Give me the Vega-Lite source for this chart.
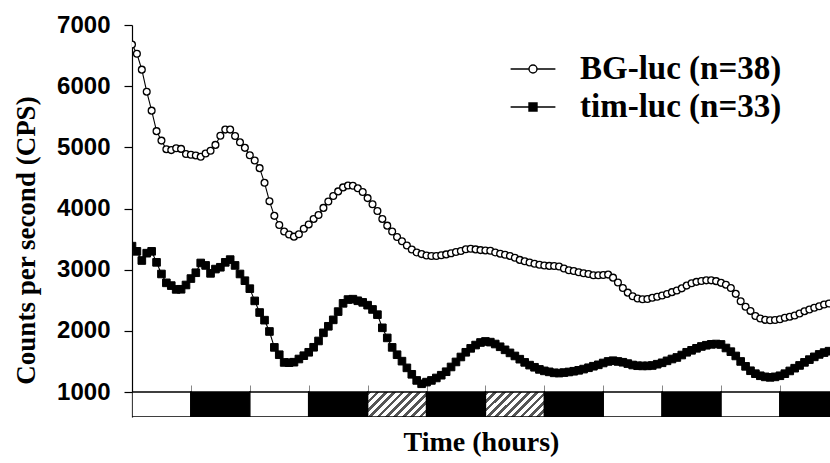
{
  "$schema": "https://vega.github.io/schema/vega-lite/v6.json",
  "autosize": {"type": "none"},
  "width": 698,
  "height": 392,
  "padding": {"left": 132, "top": 25, "right": 0, "bottom": 46},
  "background": "white",
  "config": {
    "view": {"stroke": null},
    "axisX": {"grid": false, "domain": false, "labels": false, "tickSize": -7, "tickColor": "#888", "tickWidth": 1, "offset": -25, "titleFont": "Liberation Serif", "titleFontWeight": "bold", "titleFontSize": 28, "titleColor": "black", "titleY": 58, "titleBaseline": "alphabetic"},
    "axisY": {"grid": false, "domainColor": "black", "domainWidth": 1.2, "tickColor": "black", "tickWidth": 1.2, "tickSize": 8, "labelFont": "Liberation Sans", "labelFontWeight": "bold", "labelFontSize": 24, "labelColor": "black", "labelPadding": 14, "format": "d", "titleFont": "Liberation Serif", "titleFontWeight": "bold", "titleFontSize": 27, "titleColor": "black", "titleX": -106, "titleY": 215, "titleAngle": -90, "titleAlign": "center", "titleBaseline": "middle"},
    "legend": {"title": null, "orient": "none", "legendX": 380, "legendY": 23, "padding": 0, "rowPadding": 0, "symbolSize": 1600, "labelOffset": 26, "labelLimit": 400, "labelFont": "Liberation Serif", "labelFontWeight": "bold", "labelFontSize": 33, "labelColor": "black", "symbolStrokeColor": "black", "symbolStrokeWidth": 1.4, "symbolOpacity": 1}
  },
  "datasets": {
    "boxes": [
      {"start": 0, "end": 12, "kind": "L"},
      {"start": 12, "end": 24, "kind": "D"},
      {"start": 24, "end": 36, "kind": "L"},
      {"start": 36, "end": 48, "kind": "D"},
      {"start": 48, "end": 60, "kind": "H"},
      {"start": 60, "end": 72, "kind": "D"},
      {"start": 72, "end": 84, "kind": "H"},
      {"start": 84, "end": 96, "kind": "D"},
      {"start": 96, "end": 108, "kind": "L"},
      {"start": 108, "end": 120, "kind": "D"},
      {"start": 120, "end": 132, "kind": "L"},
      {"start": 132, "end": 144, "kind": "D"}
    ],
    "lum": [
      {"s":"BG","h":0,"v":6680},{"s":"BG","h":1,"v":6530},{"s":"BG","h":2,"v":6270},{"s":"BG","h":3,"v":5910},{"s":"BG","h":4,"v":5600},{"s":"BG","h":5,"v":5265},{"s":"BG","h":6,"v":5110},{"s":"BG","h":7,"v":4970},{"s":"BG","h":8,"v":4955},{"s":"BG","h":9,"v":4985},
      {"s":"BG","h":10,"v":4975},{"s":"BG","h":11,"v":4890},{"s":"BG","h":12,"v":4880},{"s":"BG","h":13,"v":4868},{"s":"BG","h":14,"v":4845},{"s":"BG","h":15,"v":4900},{"s":"BG","h":16,"v":4945},{"s":"BG","h":17,"v":5040},{"s":"BG","h":18,"v":5190},{"s":"BG","h":19,"v":5290},
      {"s":"BG","h":20,"v":5290},{"s":"BG","h":21,"v":5185},{"s":"BG","h":22,"v":5082},{"s":"BG","h":23,"v":4992},{"s":"BG","h":24,"v":4870},{"s":"BG","h":25,"v":4785},{"s":"BG","h":26,"v":4660},{"s":"BG","h":27,"v":4420},{"s":"BG","h":28,"v":4120},{"s":"BG","h":29,"v":3880},
      {"s":"BG","h":30,"v":3730},{"s":"BG","h":31,"v":3625},{"s":"BG","h":32,"v":3575},{"s":"BG","h":33,"v":3540},{"s":"BG","h":34,"v":3580},{"s":"BG","h":35,"v":3670},{"s":"BG","h":36,"v":3740},{"s":"BG","h":37,"v":3830},{"s":"BG","h":38,"v":3895},{"s":"BG","h":39,"v":4010},
      {"s":"BG","h":40,"v":4115},{"s":"BG","h":41,"v":4205},{"s":"BG","h":42,"v":4280},{"s":"BG","h":43,"v":4345},{"s":"BG","h":44,"v":4375},{"s":"BG","h":45,"v":4372},{"s":"BG","h":46,"v":4330},{"s":"BG","h":47,"v":4270},{"s":"BG","h":48,"v":4170},{"s":"BG","h":49,"v":4070},
      {"s":"BG","h":50,"v":3960},{"s":"BG","h":51,"v":3830},{"s":"BG","h":52,"v":3720},{"s":"BG","h":53,"v":3625},{"s":"BG","h":54,"v":3535},{"s":"BG","h":55,"v":3465},{"s":"BG","h":56,"v":3395},{"s":"BG","h":57,"v":3330},{"s":"BG","h":58,"v":3282},{"s":"BG","h":59,"v":3255},
      {"s":"BG","h":60,"v":3232},{"s":"BG","h":61,"v":3223},{"s":"BG","h":62,"v":3223},{"s":"BG","h":63,"v":3236},{"s":"BG","h":64,"v":3250},{"s":"BG","h":65,"v":3268},{"s":"BG","h":66,"v":3290},{"s":"BG","h":67,"v":3306},{"s":"BG","h":68,"v":3333},{"s":"BG","h":69,"v":3343},
      {"s":"BG","h":70,"v":3332},{"s":"BG","h":71,"v":3320},{"s":"BG","h":72,"v":3315},{"s":"BG","h":73,"v":3310},{"s":"BG","h":74,"v":3282},{"s":"BG","h":75,"v":3262},{"s":"BG","h":76,"v":3245},{"s":"BG","h":77,"v":3225},{"s":"BG","h":78,"v":3195},{"s":"BG","h":79,"v":3160},
      {"s":"BG","h":80,"v":3137},{"s":"BG","h":81,"v":3117},{"s":"BG","h":82,"v":3097},{"s":"BG","h":83,"v":3080},{"s":"BG","h":84,"v":3069},{"s":"BG","h":85,"v":3062},{"s":"BG","h":86,"v":3060},{"s":"BG","h":87,"v":3052},{"s":"BG","h":88,"v":3020},{"s":"BG","h":89,"v":2990},
      {"s":"BG","h":90,"v":2978},{"s":"BG","h":91,"v":2958},{"s":"BG","h":92,"v":2942},{"s":"BG","h":93,"v":2930},{"s":"BG","h":94,"v":2910},{"s":"BG","h":95,"v":2908},{"s":"BG","h":96,"v":2912},{"s":"BG","h":97,"v":2920},{"s":"BG","h":98,"v":2870},{"s":"BG","h":99,"v":2790},
      {"s":"BG","h":100,"v":2700},{"s":"BG","h":101,"v":2625},{"s":"BG","h":102,"v":2565},{"s":"BG","h":103,"v":2530},{"s":"BG","h":104,"v":2516},{"s":"BG","h":105,"v":2520},{"s":"BG","h":106,"v":2540},{"s":"BG","h":107,"v":2558},{"s":"BG","h":108,"v":2578},{"s":"BG","h":109,"v":2604},
      {"s":"BG","h":110,"v":2633},{"s":"BG","h":111,"v":2660},{"s":"BG","h":112,"v":2695},{"s":"BG","h":113,"v":2740},{"s":"BG","h":114,"v":2778},{"s":"BG","h":115,"v":2801},{"s":"BG","h":116,"v":2816},{"s":"BG","h":117,"v":2826},{"s":"BG","h":118,"v":2826},{"s":"BG","h":119,"v":2813},
      {"s":"BG","h":120,"v":2785},{"s":"BG","h":121,"v":2755},{"s":"BG","h":122,"v":2700},{"s":"BG","h":123,"v":2605},{"s":"BG","h":124,"v":2485},{"s":"BG","h":125,"v":2395},{"s":"BG","h":126,"v":2326},{"s":"BG","h":127,"v":2244},{"s":"BG","h":128,"v":2203},{"s":"BG","h":129,"v":2180},
      {"s":"BG","h":130,"v":2174},{"s":"BG","h":131,"v":2178},{"s":"BG","h":132,"v":2189},{"s":"BG","h":133,"v":2215},{"s":"BG","h":134,"v":2232},{"s":"BG","h":135,"v":2252},{"s":"BG","h":136,"v":2284},{"s":"BG","h":137,"v":2322},{"s":"BG","h":138,"v":2350},{"s":"BG","h":139,"v":2377},
      {"s":"BG","h":140,"v":2403},{"s":"BG","h":141,"v":2432},{"s":"BG","h":142,"v":2448},
      {"s":"tim","h":0,"v":3385},{"s":"tim","h":1,"v":3300},{"s":"tim","h":2,"v":3150},{"s":"tim","h":3,"v":3270},{"s":"tim","h":4,"v":3300},{"s":"tim","h":5,"v":3120},{"s":"tim","h":6,"v":2930},{"s":"tim","h":7,"v":2785},{"s":"tim","h":8,"v":2740},{"s":"tim","h":9,"v":2678},
      {"s":"tim","h":10,"v":2680},{"s":"tim","h":11,"v":2750},{"s":"tim","h":12,"v":2855},{"s":"tim","h":13,"v":2950},{"s":"tim","h":14,"v":3110},{"s":"tim","h":15,"v":3070},{"s":"tim","h":16,"v":2940},{"s":"tim","h":17,"v":3010},{"s":"tim","h":18,"v":3040},{"s":"tim","h":19,"v":3120},
      {"s":"tim","h":20,"v":3165},{"s":"tim","h":21,"v":3070},{"s":"tim","h":22,"v":2930},{"s":"tim","h":23,"v":2820},{"s":"tim","h":24,"v":2690},{"s":"tim","h":25,"v":2490},{"s":"tim","h":26,"v":2300},{"s":"tim","h":27,"v":2175},{"s":"tim","h":28,"v":1990},{"s":"tim","h":29,"v":1730},
      {"s":"tim","h":30,"v":1610},{"s":"tim","h":31,"v":1484},{"s":"tim","h":32,"v":1480},{"s":"tim","h":33,"v":1488},{"s":"tim","h":34,"v":1540},{"s":"tim","h":35,"v":1594},{"s":"tim","h":36,"v":1650},{"s":"tim","h":37,"v":1732},{"s":"tim","h":38,"v":1835},{"s":"tim","h":39,"v":1968},
      {"s":"tim","h":40,"v":2075},{"s":"tim","h":41,"v":2180},{"s":"tim","h":42,"v":2315},{"s":"tim","h":43,"v":2450},{"s":"tim","h":44,"v":2512},{"s":"tim","h":45,"v":2518},{"s":"tim","h":46,"v":2492},{"s":"tim","h":47,"v":2466},{"s":"tim","h":48,"v":2420},{"s":"tim","h":49,"v":2350},
      {"s":"tim","h":50,"v":2265},{"s":"tim","h":51,"v":2050},{"s":"tim","h":52,"v":1885},{"s":"tim","h":53,"v":1730},{"s":"tim","h":54,"v":1610},{"s":"tim","h":55,"v":1505},{"s":"tim","h":56,"v":1395},{"s":"tim","h":57,"v":1290},{"s":"tim","h":58,"v":1190},{"s":"tim","h":59,"v":1135},
      {"s":"tim","h":60,"v":1162},{"s":"tim","h":61,"v":1190},{"s":"tim","h":62,"v":1230},{"s":"tim","h":63,"v":1275},{"s":"tim","h":64,"v":1332},{"s":"tim","h":65,"v":1410},{"s":"tim","h":66,"v":1492},{"s":"tim","h":67,"v":1573},{"s":"tim","h":68,"v":1650},{"s":"tim","h":69,"v":1714},
      {"s":"tim","h":70,"v":1768},{"s":"tim","h":71,"v":1810},{"s":"tim","h":72,"v":1827},{"s":"tim","h":73,"v":1816},{"s":"tim","h":74,"v":1785},{"s":"tim","h":75,"v":1740},{"s":"tim","h":76,"v":1690},{"s":"tim","h":77,"v":1640},{"s":"tim","h":78,"v":1590},{"s":"tim","h":79,"v":1537},
      {"s":"tim","h":80,"v":1485},{"s":"tim","h":81,"v":1440},{"s":"tim","h":82,"v":1405},{"s":"tim","h":83,"v":1370},{"s":"tim","h":84,"v":1346},{"s":"tim","h":85,"v":1330},{"s":"tim","h":86,"v":1314},{"s":"tim","h":87,"v":1310},{"s":"tim","h":88,"v":1318},{"s":"tim","h":89,"v":1328},
      {"s":"tim","h":90,"v":1340},{"s":"tim","h":91,"v":1355},{"s":"tim","h":92,"v":1375},{"s":"tim","h":93,"v":1397},{"s":"tim","h":94,"v":1422},{"s":"tim","h":95,"v":1445},{"s":"tim","h":96,"v":1475},{"s":"tim","h":97,"v":1500},{"s":"tim","h":98,"v":1512},{"s":"tim","h":99,"v":1500},
      {"s":"tim","h":100,"v":1487},{"s":"tim","h":101,"v":1465},{"s":"tim","h":102,"v":1442},{"s":"tim","h":103,"v":1430},{"s":"tim","h":104,"v":1427},{"s":"tim","h":105,"v":1428},{"s":"tim","h":106,"v":1434},{"s":"tim","h":107,"v":1455},{"s":"tim","h":108,"v":1478},{"s":"tim","h":109,"v":1510},
      {"s":"tim","h":110,"v":1540},{"s":"tim","h":111,"v":1565},{"s":"tim","h":112,"v":1605},{"s":"tim","h":113,"v":1650},{"s":"tim","h":114,"v":1682},{"s":"tim","h":115,"v":1715},{"s":"tim","h":116,"v":1745},{"s":"tim","h":117,"v":1765},{"s":"tim","h":118,"v":1780},{"s":"tim","h":119,"v":1785},
      {"s":"tim","h":120,"v":1778},{"s":"tim","h":121,"v":1720},{"s":"tim","h":122,"v":1660},{"s":"tim","h":123,"v":1590},{"s":"tim","h":124,"v":1500},{"s":"tim","h":125,"v":1420},{"s":"tim","h":126,"v":1348},{"s":"tim","h":127,"v":1300},{"s":"tim","h":128,"v":1266},{"s":"tim","h":129,"v":1248},
      {"s":"tim","h":130,"v":1240},{"s":"tim","h":131,"v":1248},{"s":"tim","h":132,"v":1266},{"s":"tim","h":133,"v":1300},{"s":"tim","h":134,"v":1345},{"s":"tim","h":135,"v":1390},{"s":"tim","h":136,"v":1435},{"s":"tim","h":137,"v":1485},{"s":"tim","h":138,"v":1530},{"s":"tim","h":139,"v":1575},
      {"s":"tim","h":140,"v":1615},{"s":"tim","h":141,"v":1645},{"s":"tim","h":142,"v":1668}
    ]
  },
  "layer": [
    {
      "data": {"name": "boxes"},
      "transform": [{"filter": "datum.kind != 'H'"}],
      "mark": {"type": "rect", "stroke": "black", "strokeWidth": 1.5, "clip": true},
      "encoding": {
        "x": {"field": "start", "type": "quantitative", "scale": {"domain": [0, 142.2], "nice": false, "zero": false}, "axis": {"title": "Time (hours)", "values": [12, 24, 36, 48, 60, 72, 84, 96, 108, 120, 132]}},
        "x2": {"field": "end"},
        "y": {"datum": 1000, "type": "quantitative", "scale": {"domain": [592, 7000], "nice": false, "zero": false}, "axis": {"title": "Counts per second (CPS)", "values": [1000, 2000, 3000, 4000, 5000, 6000, 7000]}},
        "y2": {"datum": 592},
        "fill": {"condition": {"test": "datum.kind == 'L'", "value": "white"}, "value": "black"}
      }
    },
    {
      "data": {"name": "boxes"},
      "transform": [{"filter": "datum.kind == 'H'"}],
      "mark": {"type": "rect", "stroke": "black", "strokeWidth": 1.5, "clip": true,
        "fill": {"gradient": "linear", "x1": 0, "y1": 0, "x2": 1.207, "y2": 0.512, "stops": [
          {"offset": 0, "color": "#555"}, {"offset": 0.045, "color": "#555"}, {"offset": 0.045, "color": "#fff"}, {"offset": 0.1, "color": "#fff"},
          {"offset": 0.1, "color": "#555"}, {"offset": 0.145, "color": "#555"}, {"offset": 0.145, "color": "#fff"}, {"offset": 0.2, "color": "#fff"},
          {"offset": 0.2, "color": "#555"}, {"offset": 0.245, "color": "#555"}, {"offset": 0.245, "color": "#fff"}, {"offset": 0.3, "color": "#fff"},
          {"offset": 0.3, "color": "#555"}, {"offset": 0.345, "color": "#555"}, {"offset": 0.345, "color": "#fff"}, {"offset": 0.4, "color": "#fff"},
          {"offset": 0.4, "color": "#555"}, {"offset": 0.445, "color": "#555"}, {"offset": 0.445, "color": "#fff"}, {"offset": 0.5, "color": "#fff"},
          {"offset": 0.5, "color": "#555"}, {"offset": 0.545, "color": "#555"}, {"offset": 0.545, "color": "#fff"}, {"offset": 0.6, "color": "#fff"},
          {"offset": 0.6, "color": "#555"}, {"offset": 0.645, "color": "#555"}, {"offset": 0.645, "color": "#fff"}, {"offset": 0.7, "color": "#fff"},
          {"offset": 0.7, "color": "#555"}, {"offset": 0.745, "color": "#555"}, {"offset": 0.745, "color": "#fff"}, {"offset": 0.8, "color": "#fff"},
          {"offset": 0.8, "color": "#555"}, {"offset": 0.845, "color": "#555"}, {"offset": 0.845, "color": "#fff"}, {"offset": 0.9, "color": "#fff"},
          {"offset": 0.9, "color": "#555"}, {"offset": 0.945, "color": "#555"}, {"offset": 0.945, "color": "#fff"}, {"offset": 1, "color": "#fff"}
        ]}
      },
      "encoding": {
        "x": {"field": "start", "type": "quantitative", "axis": {"title": "Time (hours)", "values": [12, 24, 36, 48, 60, 72, 84, 96, 108, 120, 132]}},
        "x2": {"field": "end"},
        "y": {"datum": 1000, "type": "quantitative", "axis": {"title": "Counts per second (CPS)", "values": [1000, 2000, 3000, 4000, 5000, 6000, 7000]}},
        "y2": {"datum": 592}
      }
    },
    {
      "data": {"name": "lum"},
      "mark": {"type": "line", "stroke": "black", "strokeWidth": 1.1, "clip": true},
      "encoding": {
        "x": {"field": "h", "type": "quantitative", "axis": {"title": "Time (hours)", "values": [12, 24, 36, 48, 60, 72, 84, 96, 108, 120, 132]}},
        "y": {"field": "v", "type": "quantitative", "axis": {"title": "Counts per second (CPS)", "values": [1000, 2000, 3000, 4000, 5000, 6000, 7000]}},
        "detail": {"field": "s", "type": "nominal"}
      }
    },
    {
      "data": {"name": "lum"},
      "transform": [{"filter": "datum.s == 'BG'"}],
      "mark": {"type": "point", "shape": "circle", "filled": true, "fill": "white", "stroke": "black", "strokeWidth": 1.3, "size": 46, "opacity": 1, "clip": true},
      "encoding": {
        "x": {"field": "h", "type": "quantitative", "axis": {"title": "Time (hours)", "values": [12, 24, 36, 48, 60, 72, 84, 96, 108, 120, 132]}},
        "y": {"field": "v", "type": "quantitative", "axis": {"title": "Counts per second (CPS)", "values": [1000, 2000, 3000, 4000, 5000, 6000, 7000]}}
      }
    },
    {
      "data": {"name": "lum"},
      "transform": [{"filter": "datum.s == 'tim'"}],
      "mark": {"type": "point", "shape": "square", "filled": true, "fill": "black", "stroke": "black", "strokeWidth": 1, "size": 58, "opacity": 1, "clip": true},
      "encoding": {
        "x": {"field": "h", "type": "quantitative", "axis": {"title": "Time (hours)", "values": [12, 24, 36, 48, 60, 72, 84, 96, 108, 120, 132]}},
        "y": {"field": "v", "type": "quantitative", "axis": {"title": "Counts per second (CPS)", "values": [1000, 2000, 3000, 4000, 5000, 6000, 7000]}}
      }
    },
    {
      "data": {"name": "lum"},
      "transform": [{"filter": "false"}],
      "mark": {"type": "point", "filled": true, "strokeWidth": 1.4, "opacity": 1},
      "encoding": {
        "x": {"field": "h", "type": "quantitative", "axis": {"title": "Time (hours)", "values": [12, 24, 36, 48, 60, 72, 84, 96, 108, 120, 132]}},
        "y": {"field": "v", "type": "quantitative", "axis": {"title": "Counts per second (CPS)", "values": [1000, 2000, 3000, 4000, 5000, 6000, 7000]}},
        "shape": {"field": "s", "type": "nominal",
          "scale": {"domain": ["BG", "tim"], "range": ["M-1.12,0L-0.2,0M0.2,0L1.12,0M-0.2,0A0.2,0.2,0,1,1,0.2,0A0.2,0.2,0,1,1,-0.2,0Z", "M-1.12,0L1.12,0M-0.2,-0.2L0.2,-0.2L0.2,0.2L-0.2,0.2Z"]},
          "legend": {"labelExpr": "datum.label == 'BG' ? 'BG-luc (n=38)' : 'tim-luc (n=33)'"}},
        "fill": {"field": "s", "type": "nominal",
          "scale": {"domain": ["BG", "tim"], "range": ["white", "black"]},
          "legend": {"labelExpr": "datum.label == 'BG' ? 'BG-luc (n=38)' : 'tim-luc (n=33)'"}},
        "stroke": {"field": "s", "type": "nominal",
          "scale": {"domain": ["BG", "tim"], "range": ["black", "black"]},
          "legend": {"labelExpr": "datum.label == 'BG' ? 'BG-luc (n=38)' : 'tim-luc (n=33)'"}}
      }
    }
  ]
}
